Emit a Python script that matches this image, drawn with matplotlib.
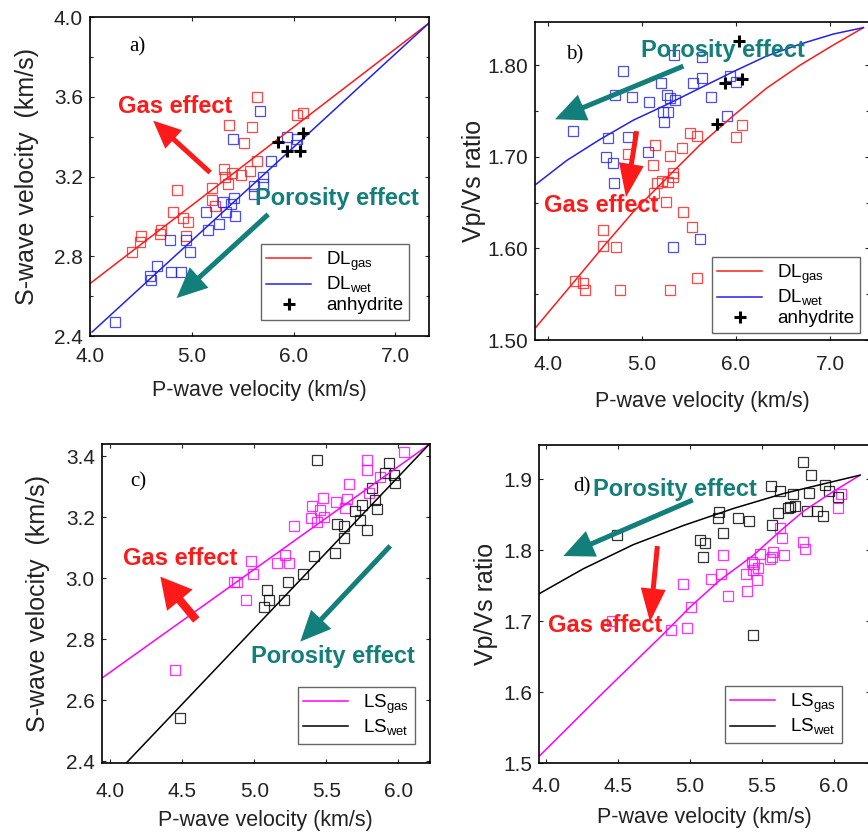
import matplotlib
matplotlib.use('Agg')
import matplotlib.pyplot as plt
from matplotlib.ticker import MultipleLocator, FormatStrFormatter

plt.rcParams['font.family'] = ['Liberation Sans', 'DejaVu Sans']
plt.rcParams['mathtext.fontset'] = 'custom'
plt.rcParams['mathtext.rm'] = 'Liberation Sans'

RED = '#ff1a1a'
BLUE = '#2222e8'
MAG = '#ff00ff'
TEAL = '#127f7a'

# ---- panel a: Vs vs Vp, dolomite
a_gas_vp = [5.64, 5.37, 5.59, 5.51, 6.03, 6.09, 5.64, 5.32, 5.57, 5.48, 5.39, 5.33, 5.36,
            5.20, 4.85, 5.20, 5.23, 4.82, 4.91, 4.96, 4.70, 4.69, 4.94, 4.50, 4.49, 4.41]
a_gas_vs = [3.60, 3.46, 3.45, 3.37, 3.51, 3.52, 3.28, 3.24, 3.23, 3.21, 3.22, 3.20, 3.16,
            3.14, 3.13, 3.08, 3.05, 3.02, 2.99, 2.97, 2.93, 2.91, 2.90, 2.90, 2.87, 2.82]
a_wet_vp = [5.67, 5.40, 5.78, 5.93, 6.03, 6.02, 5.70, 5.70, 5.61, 5.61, 5.41, 5.31, 5.38, 5.34,
            5.42, 5.14, 5.27, 5.16, 4.79, 4.94, 4.98, 4.66, 4.59, 4.60, 4.80, 4.89, 4.25]
a_wet_vs = [3.53, 3.39, 3.28, 3.40, 3.39, 3.36, 3.20, 3.16, 3.15, 3.11, 3.09, 3.07, 3.06, 3.02,
            3.00, 3.02, 2.96, 2.93, 2.88, 2.88, 2.82, 2.75, 2.70, 2.68, 2.72, 2.72, 2.47]
a_anh_vp = [5.85, 5.93, 6.06, 6.09]
a_anh_vs = [3.375, 3.33, 3.33, 3.42]
a_dlgas_vp = [4.00, 7.33]
a_dlgas_vs = [2.663, 3.97]
a_dlwet_vp = [4.02, 7.33]
a_dlwet_vs = [2.42, 3.97]

# ---- panel b: Vp/Vs vs Vp, dolomite
b_wet_vp = [4.794, 4.713, 4.890, 5.078, 5.202, 5.262, 5.298, 5.351, 5.227, 5.280, 5.234, 5.340,
            5.635, 5.539, 5.635, 5.730, 5.936, 5.999, 5.901, 4.264, 4.637, 4.855, 4.619, 4.690,
            5.067, 4.702, 5.333, 5.617]
b_wet_r = [1.794, 1.767, 1.765, 1.760, 1.781, 1.768, 1.764, 1.762, 1.749, 1.749, 1.738, 1.811,
           1.809, 1.781, 1.786, 1.765, 1.788, 1.782, 1.744, 1.728, 1.721, 1.722, 1.700, 1.693,
           1.705, 1.671, 1.601, 1.610]
b_gas_vp = [4.848, 5.138, 5.511, 5.589, 5.422, 5.298, 5.113, 6.067, 5.999, 5.163, 5.209, 5.280,
            5.333, 5.326, 5.128, 5.252, 5.440, 5.535, 4.589, 4.589, 4.723, 4.287, 4.376, 4.394,
            4.766, 5.298, 5.582]
b_gas_r = [1.703, 1.713, 1.726, 1.723, 1.710, 1.701, 1.691, 1.735, 1.722, 1.671, 1.674, 1.672,
           1.682, 1.678, 1.661, 1.651, 1.640, 1.623, 1.620, 1.603, 1.601, 1.564, 1.562, 1.555,
           1.555, 1.555, 1.568]
b_anh_vp = [6.035, 5.883, 6.060, 5.801]
b_anh_r = [1.826, 1.781, 1.785, 1.736]
b_dlwet_vp = [3.872, 4.199, 4.553, 4.908, 5.262, 5.617, 5.972, 6.326, 6.681, 7.035, 7.355]
b_dlwet_r = [1.670, 1.696, 1.719, 1.740, 1.757, 1.775, 1.793, 1.810, 1.823, 1.834, 1.841]
b_dlgas_vp = [3.872, 4.305, 4.589, 4.908, 5.333, 5.617, 5.972, 6.326, 6.681, 7.035, 7.355]
b_dlgas_r = [1.514, 1.567, 1.602, 1.640, 1.684, 1.713, 1.745, 1.775, 1.800, 1.822, 1.841]

# ---- panel c: Vs vs Vp, limestone
c_gas_vp = [6.037, 5.782, 5.782, 5.875, 5.655, 5.794, 5.477, 5.569, 5.644, 5.400, 5.454, 5.481,
            5.394, 5.435, 5.632, 5.273, 4.977, 5.157, 5.215, 5.238, 4.991, 4.856, 4.880, 4.944,
            4.451]
c_gas_vs = [3.415, 3.386, 3.355, 3.333, 3.309, 3.279, 3.262, 3.251, 3.259, 3.237, 3.224, 3.200,
            3.197, 3.183, 3.230, 3.172, 3.055, 3.051, 3.077, 3.049, 3.014, 2.986, 2.986, 2.929,
            2.699]
c_wet_vp = [5.435, 5.933, 5.910, 5.968, 5.979, 5.817, 5.840, 5.852, 5.748, 5.701, 5.736, 5.574,
            5.620, 5.625, 5.782, 5.412, 5.563, 5.338, 5.231, 5.088, 5.104, 5.204, 5.065, 4.481]
c_wet_vs = [3.386, 3.377, 3.344, 3.339, 3.311, 3.295, 3.257, 3.226, 3.240, 3.219, 3.191, 3.178,
            3.172, 3.131, 3.158, 3.073, 3.082, 3.014, 2.986, 2.962, 2.929, 2.929, 2.905, 2.541]
c_lsgas_vp = [3.94, 6.21]
c_lsgas_vs = [2.672, 3.437]
c_lswet_vp = [4.11, 6.21]
c_lswet_vs = [2.394, 3.437]

# ---- panel d: Vp/Vs vs Vp, limestone
d_wet_vp = [4.495, 5.782, 5.838, 5.560, 5.625, 5.718, 5.829, 5.938, 5.968, 6.030, 5.694, 5.729,
            5.683, 5.810, 5.880, 5.921, 5.613, 5.204, 5.197, 5.336, 5.412, 5.572, 5.069, 5.104,
            5.227, 5.093, 5.435]
d_wet_r = [1.822, 1.924, 1.906, 1.891, 1.884, 1.879, 1.881, 1.892, 1.884, 1.875, 1.861, 1.863,
           1.859, 1.855, 1.855, 1.848, 1.853, 1.854, 1.846, 1.846, 1.842, 1.835, 1.815, 1.810,
           1.824, 1.791, 1.681]
d_gas_vp = [6.046, 6.030, 5.787, 5.799, 5.625, 5.637, 5.653, 5.579, 5.567, 5.556, 5.486, 5.475,
            5.440, 5.444, 5.428, 5.468, 5.389, 5.394, 5.227, 5.213, 5.144, 5.266, 4.949, 5.005,
            4.868, 4.981, 4.456]
d_gas_r = [1.879, 1.860, 1.812, 1.802, 1.831, 1.817, 1.793, 1.798, 1.791, 1.788, 1.795, 1.775,
           1.772, 1.781, 1.783, 1.758, 1.766, 1.743, 1.793, 1.767, 1.759, 1.735, 1.753, 1.720,
           1.688, 1.691, 1.701]
d_lswet_vp = [3.954, 4.259, 4.606, 4.954, 5.301, 5.648, 5.995, 6.181]
d_lswet_r = [1.739, 1.774, 1.808, 1.835, 1.859, 1.880, 1.897, 1.906]
d_lsgas_vp = [3.954, 4.375, 4.815, 5.000, 5.208, 5.440, 5.625, 5.787, 5.995, 6.181]
d_lsgas_r = [1.510, 1.595, 1.682, 1.720, 1.758, 1.793, 1.827, 1.855, 1.883, 1.906]

TICKFS = 15
XLABFS = 15.5
YLABFS = 18
EFFS = 17


def squares(ax, x, y, color):
    ax.plot(x, y, 's', ms=7, mfc='none', mec=color, mew=0.9, alpha=0.8)


def arrow(ax, tail, head, color, hw=1.8, hl=2.0, tw=0.36):
    ax.annotate('', xy=head, xytext=tail,
                arrowprops=dict(arrowstyle='simple,head_width=%s,head_length=%s,tail_width=%s' % (hw, hl, tw),
                                color=color, lw=0, shrinkA=0, shrinkB=0, mutation_scale=10))


def effect(ax, x, y, s, color):
    ax.text(x, y, s, color=color, fontsize=EFFS, fontweight='bold', ha='center', va='center')


def setup(ax, xlim, ylim, xt, yt, ymin, yfmt, ylab, letter, lpos, xpad, xlpad, ylpad):
    ax.set_xlim(*xlim)
    ax.set_ylim(*ylim)
    ax.set_xticks(xt)
    ax.set_yticks(yt)
    ax.yaxis.set_minor_locator(MultipleLocator(ymin))
    ax.xaxis.set_major_formatter(FormatStrFormatter('%.1f'))
    ax.yaxis.set_major_formatter(FormatStrFormatter(yfmt))
    ax.tick_params(which='both', direction='in', top=True, right=True, labelsize=TICKFS,
                   colors='#222222', length=3, width=0.8)
    ax.tick_params(which='minor', length=2)
    ax.tick_params(axis='x', pad=xpad)
    ax.tick_params(axis='y', pad=5)
    for sp in ax.spines.values():
        sp.set_linewidth(1.2)
    ax.set_xlabel('P-wave velocity (km/s)', fontsize=XLABFS, color='#222222', labelpad=xlpad)
    ax.set_ylabel(ylab, fontsize=YLABFS, color='#222222', labelpad=ylpad)
    ax.text(lpos[0], lpos[1], letter, family='Liberation Serif', fontsize=15,
            ha='center', va='center', transform=ax.transAxes)


def legend(ax, anchor):
    ax.legend(loc='lower right', bbox_to_anchor=anchor, fontsize=13.5, frameon=True, fancybox=False,
              edgecolor='#666666', framealpha=1, borderaxespad=0, handlelength=2.4,
              handletextpad=0.8, labelspacing=0.1, borderpad=0.3)


fig = plt.figure(figsize=(8.68, 8.34), dpi=100)

# a)
ax = fig.add_axes([0.1037, 0.5971, 0.3906, 0.3825])
squares(ax, a_gas_vp, a_gas_vs, RED)
squares(ax, a_wet_vp, a_wet_vs, BLUE)
ax.plot(a_dlgas_vp, a_dlgas_vs, color=RED, lw=1.1, label='DL$_{\\mathrm{gas}}$')
ax.plot(a_dlwet_vp, a_dlwet_vs, color=BLUE, lw=1.1, label='DL$_{\\mathrm{wet}}$')
ax.plot(a_anh_vp, a_anh_vs, '+', color='black', ms=9, mew=2.2, label='anhydrite')
arrow(ax, (5.18, 3.22), (4.62, 3.48), RED)
effect(ax, 4.84, 3.55, 'Gas effect', RED)
arrow(ax, (5.75, 3.01), (4.85, 2.59), TEAL, hw=2.0, hl=2.2)
effect(ax, 6.43, 3.09, 'Porosity effect', TEAL)
setup(ax, (4.0, 7.33), (2.4, 4.0), [4.0, 5.0, 6.0, 7.0], [2.4, 2.8, 3.2, 3.6, 4.0], 0.2, '%.1f',
      'S-wave velocity  (km/s)', 'a)', (0.14, 0.905), 8, 10, 11)
legend(ax, (0.941, 0.05))

# b)
ax = fig.add_axes([0.6164, 0.5923, 0.3848, 0.3817])
squares(ax, b_gas_vp, b_gas_r, RED)
squares(ax, b_wet_vp, b_wet_r, BLUE)
ax.plot(b_dlgas_vp, b_dlgas_r, color=RED, lw=1.1, label='DL$_{\\mathrm{gas}}$')
ax.plot(b_dlwet_vp, b_dlwet_r, color=BLUE, lw=1.1, label='DL$_{\\mathrm{wet}}$')
ax.plot(b_anh_vp, b_anh_r, '+', color='black', ms=9, mew=2.2, label='anhydrite')
arrow(ax, (5.44, 1.799), (4.074, 1.741), TEAL, hw=2.0, hl=2.2)
effect(ax, 5.865, 1.816, 'Porosity effect', TEAL)
arrow(ax, (4.943, 1.728), (4.83, 1.656), RED, hw=1.8, hl=2.4)
effect(ax, 4.571, 1.647, 'Gas effect', RED)
setup(ax, (3.862, 7.415), (1.511, 1.8475), [4.0, 5.0, 6.0, 7.0], [1.5, 1.6, 1.7, 1.8], 0.05, '%.2f',
      'Vp/Vs ratio', 'b)', (0.12, 0.895), 11, 12, 1)
legend(ax, (0.973, 0.022))

# c)
ax = fig.add_axes([0.1172, 0.0851, 0.3782, 0.3825])
squares(ax, c_gas_vp, c_gas_vs, MAG)
squares(ax, c_wet_vp, c_wet_vs, 'black')
ax.plot(c_lsgas_vp, c_lsgas_vs, color=MAG, lw=1.1, label='LS$_{\\mathrm{gas}}$')
ax.plot(c_lswet_vp, c_lswet_vs, color='black', lw=1.1, label='LS$_{\\mathrm{wet}}$')
arrow(ax, (4.597, 2.863), (4.347, 3.005), RED, hw=2.4, hl=2.2, tw=0.6)
effect(ax, 4.486, 3.066, 'Gas effect', RED)
arrow(ax, (5.944, 3.106), (5.319, 2.792), TEAL, hw=2.0, hl=2.2)
effect(ax, 5.546, 2.743, 'Porosity effect', TEAL)
setup(ax, (3.94, 6.22), (2.394, 3.44), [4.0, 4.5, 5.0, 5.5, 6.0], [2.4, 2.6, 2.8, 3.0, 3.2, 3.4], 0.2,
      '%.1f', 'S-wave velocity  (km/s)', 'c)', (0.11, 0.88), 14, 6, 11)
legend(ax, (0.954, 0.06))

# d)
ax = fig.add_axes([0.621, 0.0851, 0.3813, 0.3813])
squares(ax, d_gas_vp, d_gas_r, MAG)
squares(ax, d_wet_vp, d_wet_r, 'black')
ax.plot(d_lsgas_vp, d_lsgas_r, color=MAG, lw=1.1, label='LS$_{\\mathrm{gas}}$')
ax.plot(d_lswet_vp, d_lswet_r, color='black', lw=1.1, label='LS$_{\\mathrm{wet}}$')
arrow(ax, (5.019, 1.871), (4.12, 1.792), TEAL, hw=2.0, hl=2.2)
effect(ax, 4.896, 1.886, 'Porosity effect', TEAL)
arrow(ax, (4.773, 1.806), (4.722, 1.699), RED, hw=1.8, hl=2.4)
effect(ax, 4.41, 1.694, 'Gas effect', RED)
setup(ax, (3.951, 6.25), (1.5, 1.9485), [4.0, 4.5, 5.0, 5.5, 6.0], [1.5, 1.6, 1.7, 1.8, 1.9], 0.1,
      '%.1f', 'Vp/Vs ratio', 'd)', (0.13, 0.87), 10, 8, 4)
legend(ax, (0.915, 0.063))

fig.savefig('out.png', dpi=100)
